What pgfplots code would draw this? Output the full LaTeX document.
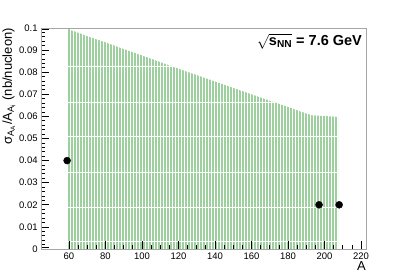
\documentclass[border=0pt]{standalone}
\usepackage{pgfplots}
\pgfplotsset{compat=1.18}
\usepackage{fontspec}
\setmainfont{Liberation Sans}
\usetikzlibrary{patterns.meta}
\definecolor{bandgreen}{RGB}{158,207,158}
\begin{document}
\fontsize{9.5bp}{11bp}\selectfont
\begin{tikzpicture}
\begin{axis}[
  at={(0,0)}, anchor=south west,
  scale only axis, width=325bp, height=221bp,
  xmin=44.7, xmax=222.7, ymin=0, ymax=0.1,
  xtick={60,80,...,220}, minor x tick num=3,
  ytick={0,0.01,0.02,0.03,0.04,0.05,0.06,0.07,0.08,0.09,0.1}, minor y tick num=4,
  xtick pos=bottom, ytick pos=left, tick align=inside,
  major tick length=8bp, minor tick length=4bp,
  tick style={black, line width=0.8bp},
  axis on top,
  axis line style={gray!70, line width=0.8pt},
  /pgf/number format/assume math mode=true,
  yticklabel style={/pgf/number format/fixed, /pgf/number format/precision=2, font=\fontsize{9.5bp}{11bp}\selectfont},
  xticklabel style={font=\fontsize{9.5bp}{11bp}\selectfont},
  scaled y ticks=false,
  xlabel={A},
  xlabel style={at={(axis description cs:1,-0.055)}, anchor=north east, font=\fontsize{13bp}{14bp}\selectfont, inner sep=0pt},
  ylabel={σ\textsubscript{A\textsubscript{A}}/A\textsubscript{A\textsubscript{i}} (nb/nucleon)},
  ylabel style={at={(axis description cs:-0.078,1)}, anchor=south east, font=\fontsize{13bp}{14bp}\selectfont, inner sep=0pt},
  clip=true,
]
% band
\addplot[draw=none, pattern={Lines[angle=90, distance=3bp, line width=2bp]}, pattern color=bandgreen] coordinates {
 (59,0) (59,0.1) (60,0.1) (61,0.0990) (63,0.0985) (66,0.0976) (70,0.0963) (80,0.0935) (90,0.0905)
 (100,0.0876) (110,0.0846) (120,0.0816) (130,0.0787) (140,0.0758) (150,0.0729)
 (160,0.0700) (170,0.0671) (180,0.0643) (187,0.0622) (193,0.0605) (207.5,0.0598) (207.5,0)
} -- cycle;
% white gaps of the band pattern
\addplot[white, line width=1bp] coordinates {(58.5,0.0824) (117.3,0.0824)};
\addplot[white, line width=1bp] coordinates {(58.5,0.0665) (172.3,0.0665)};
\addplot[white, line width=1bp] coordinates {(58.5,0.0507) (208,0.0507)};
\addplot[white, line width=1bp] coordinates {(58.5,0.0348) (208,0.0348)};
\addplot[white, line width=1bp] coordinates {(58.5,0.0190) (208,0.0190)};
\addplot[white, line width=1bp] coordinates {(58.5,0.0032) (208,0.0032)};
% y-axis tick marks drawn as short segments
\pgfplotsinvokeforeach{0.0005,0.01,0.02,0.03,0.04,0.05,0.06,0.07,0.08,0.09,0.0995}{
  \addplot[black, line width=0.8bp, mark=none] coordinates {(44.7,#1) (49.1,#1)};
}
\pgfplotsinvokeforeach{0.002,0.004,0.006,0.008,0.012,0.014,0.016,0.018,0.022,0.024,0.026,0.028,0.032,0.034,0.036,0.038,0.042,0.044,0.046,0.048,0.052,0.054,0.056,0.058,0.062,0.064,0.066,0.068,0.072,0.074,0.076,0.078,0.082,0.084,0.086,0.088,0.092,0.094,0.096,0.098}{
  \addplot[black, line width=0.8bp, mark=none] coordinates {(44.7,#1) (46.9,#1)};
}
% points
\addplot[only marks, mark=*, mark size=3.5bp, black] coordinates {(59,0.04) (197,0.02) (208,0.02)};
\draw[black, line width=0.8pt] (rel axis cs:0,1) -- (rel axis cs:0,0) -- (rel axis cs:1,0);
\node[anchor=base east, inner sep=0pt, font=\fontsize{14.5bp}{16bp}\selectfont\bfseries] at (rel axis cs:0.988,0.923) {$\sqrt{\mathbf{s}_{\mathbf{NN}}}$ = 7.6 GeV};
\end{axis}
\path[use as bounding box] (-41bp,-29bp) rectangle (366bp,249bp);
\end{tikzpicture}
\end{document}
